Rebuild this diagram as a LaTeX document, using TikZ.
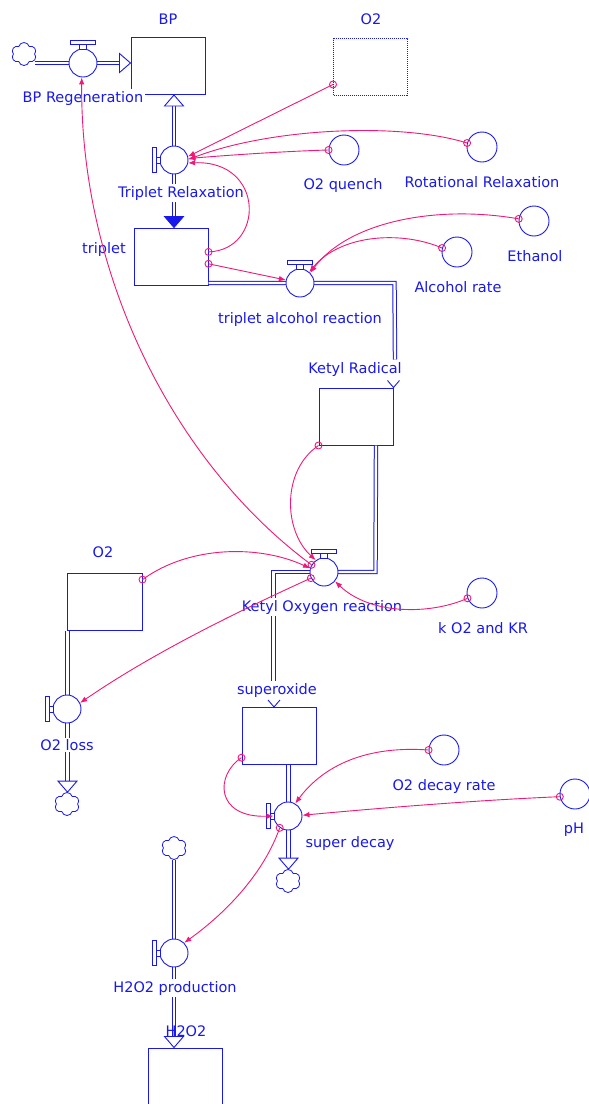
\documentclass[tikz,border=0pt]{standalone}
\usepackage{fontspec}
\setmainfont{DejaVu Sans}
\usepackage{tikz}
\usetikzlibrary{shapes.geometric, shapes.symbols, arrows.meta, calc}
\definecolor{sfblue}{RGB}{25,25,235}
\definecolor{sfpink}{RGB}{240,25,120}
\newcommand{\sflbl}{\fontsize{14.5}{16}\selectfont}
\newcommand{\pipehead}[3]{\draw[#1, shift={#2}, rotate=#3] (0,0) -- (-11,-9.5) -- (-11,9.5) -- cycle;}
\tikzset{
  stock/.style={rectangle, draw=sfblue, line width=1pt,
    minimum width=74pt, minimum height=57pt, inner sep=0pt},
  ghost/.style={stock, densely dotted},
  valve/.style={circle, draw=sfblue, fill=white, line width=0.9pt,
    minimum size=28pt, inner sep=0pt},
  conv/.style={circle, draw=sfblue, line width=0.9pt,
    minimum size=30pt, inner sep=0pt},
  source/.style={cloud, cloud puffs=6, draw=sfblue, line width=0.8pt,
    minimum width=25pt, minimum height=23pt, inner sep=0pt, aspect=1},
  lbl/.style={font=\sflbl, text=sfblue, fill=white, inner sep=1.5pt},
  pipe/.style={draw=sfblue, double=white, double distance=2.4pt, line width=1pt},
  openhead/.style={draw=sfblue, fill=white, line width=0.9pt},
  fullhead/.style={draw=sfblue, fill=sfblue, line width=0.9pt},
  handle/.style={draw=sfblue, fill=white, line width=0.8pt},
  conn/.style={-{Latex[length=7pt,width=5.5pt]}, draw=sfpink, line width=0.9pt},
  tailring/.style={draw=sfpink, line width=0.9pt}
}
\begin{document}
\begin{tikzpicture}[x=1pt, y=-1pt]
  \useasboundingbox (0,0) rectangle (589,1104);

  % Stocks
  \node[stock] (BP) at (168,66) {};
  \node[ghost] (O2top) at (370.5,67) {};
  \node[stock] (triplet) at (171,256.5) {};
  \node[stock] (Ketyl) at (356,416.5) {};
  \node[stock, minimum width=75pt] (O2low) at (104.5,601.5) {};
  \node[stock] (superoxide) at (279,736) {};
  \node[stock] (H2O2) at (185.5,1076.5) {};

  % Sources and sinks
  \node[source] (cloudA) at (24,54) {};
  \node[source] (cloudB) at (67,804) {};
  \node[source] (cloudC) at (288,881) {};
  \node[source] (cloudD) at (174,848) {};

  % Converters
  \node[conv] (O2quench) at (344,150) {};
  \node[conv] (RotRel) at (482,147) {};
  \node[conv] (Ethanol) at (534,221) {};
  \node[conv] (AlcRate) at (457,252) {};
  \node[conv] (kKR) at (482,593) {};
  \node[conv] (O2decay) at (444,750) {};
  \node[conv] (pH) at (575,794) {};

  % Pipes
  \draw[pipe] (cloudA.east |- 0,63) -- (70,63);
  \draw[pipe] (96,63) -- ($(BP.west |- 0,63)+(-11,0)$);
  \draw[pipe] (174,146) -- ($(174,0 |- BP.south)+(0,10)$);
  \draw[pipe] (174,174) -- ($(174,0 |- triplet.north)+(0,-11)$);
  \draw[pipe] (triplet.south east |- 0,283) -- (394.5,283) -- ($(Ketyl.north east)+(1.5,-28)$);
  \draw[pipe] ($(Ketyl.south east)+(-17.5,0)$) -- (375.5,572) -- (324,572);
  \draw[pipe] (324,572) -| ($(superoxide.north)+(-5.5,-8)$);
  \draw[pipe] (67.5,0 |- O2low.south) -- (67.5,709);
  \draw[pipe] (67.5,709) -- ($(67.5,0 |- cloudB.north)+(0,-11)$);
  \draw[pipe] (288.5,0 |- superoxide.south) -- ($(288.5,0 |- cloudC.north)+(0,-11)$);
  \draw[pipe] (174,0 |- cloudD.south) -- ($(174,0 |- H2O2.north)+(0,-11)$);

  % Valves
  \node[valve] (vBPR) at (83,63) {};
  \node[valve] (vTR) at (174,160) {};
  \node[valve] (vTAR) at (300,283) {};
  \node[valve] (vKOR) at (324,572) {};
  \node[valve] (vO2L) at (67,709) {};
  \node[valve] (vSD) at (288,816) {};
  \node[valve] (vH2P) at (174,953) {};

  % Valve handles
  \foreach \v in {vBPR, vTAR, vKOR} {
    \draw[handle] ($(\v)+(-3.5,-19)$) rectangle ($(\v)+(3.5,-14)$);
    \draw[handle] ($(\v)+(-12.5,-23)$) rectangle ($(\v)+(12.5,-19)$);
  }
  \foreach \v in {vTR, vO2L, vSD, vH2P} {
    \draw[handle] ($(\v)+(-18,-3)$) rectangle ($(\v)+(-14,3)$);
    \draw[handle] ($(\v)+(-22,-12.5)$) rectangle ($(\v)+(-18,12.5)$);
  }

  % Flow heads
  \pipehead{openhead}{(BP.west |- vBPR)}{0}
  \pipehead{openhead}{(vTR |- BP.south)}{90}
  \pipehead{fullhead}{(vTR |- triplet.north)}{-90}
  \pipehead{openhead}{(67.5,0 |- cloudB.north)}{-90}
  \pipehead{openhead}{(288.5,0 |- cloudC.north)}{-90}
  \pipehead{openhead}{(vH2P |- H2O2.north)}{-90}
  \draw[draw=sfblue, line width=0.9pt] ($(Ketyl.north east)+(-6,-7)$) -- (Ketyl.north east) -- ($(Ketyl.north east)+(6,-7)$);
  \draw[draw=sfblue, line width=0.9pt] ($(superoxide.north)+(-11,-7)$) -- ($(superoxide.north)+(-5,0)$) -- ($(superoxide.north)+(1,-7)$);

  % Labels
  \node[lbl] (tBP) at (168,19) {BP};
  \node[lbl] (tO2top) at (371,19) {O2};
  \node[lbl] (tBPR) at (83,98) {BP Regeneration};
  \node[lbl] (tTR) at (181,193) {Triplet Relaxation};
  \node[lbl] (tO2q) at (343,185) {O2 quench};
  \node[lbl] (tRot) at (482,182) {Rotational Relaxation};
  \node[lbl] (ttrip) at (104,249) {triplet};
  \node[lbl] (tEth) at (535,256) {Ethanol};
  \node[lbl] (tAlc) at (458,287) {Alcohol rate};
  \node[lbl] (tTAR) at (300,319) {triplet alcohol reaction};
  \node[lbl] (tKet) at (355,369) {Ketyl Radical};
  \node[lbl] (tO2low) at (103,552) {O2};
  \node[lbl] (tKOR) at (322,607) {Ketyl Oxygen reaction};
  \node[lbl] (tkKR) at (483,628) {k O2 and KR};
  \node[lbl] (tsup) at (277,690) {superoxide};
  \node[lbl] (tO2L) at (67,745) {O2 loss};
  \node[lbl] (tO2d) at (444,786) {O2 decay rate};
  \node[lbl] (tpH) at (574,830) {pH};
  \node[lbl] (tSD) at (350,843) {super decay};
  \node[lbl] (tH2P) at (175,988) {H2O2 production};
  \node[lbl, fill=none] (tH2O2) at (186,1031) {H2O2};

  % Connectors
  \draw[conn] (O2top.205) -- (vTR.14);
  \draw[conn] (O2quench.west) .. controls (290,151) and (230,155) .. (vTR.6);
  \draw[conn] (RotRel.165) .. controls (400,122) and (270,128) .. (vTR.2);
  \draw[conn] (triplet.7) .. controls (265,250) and (265,160) .. (vTR.-12);
  \draw[conn] (triplet.-11) -- (vTAR.168);
  \draw[conn] (AlcRate.165) .. controls (400,230) and (340,235) .. (vTAR.50);
  \draw[conn] (Ethanol.172) .. controls (440,205) and (350,220) .. (vTAR.45);
  \draw[conn] (vKOR.150) .. controls (170,460) and (80,270) .. (vBPR.265);
  \draw[conn] (Ketyl.south west) .. controls (282,470) and (283,530) .. (vKOR.125);
  \draw[conn] (O2low.30) .. controls (190,545) and (260,545) .. (vKOR.165);
  \draw[conn] (vKOR.205) .. controls (230,615) and (150,655) .. (vO2L.25);
  \draw[conn] (kKR.200) .. controls (430,615) and (370,615) .. (vKOR.-40);
  \draw[conn] (superoxide.210) .. controls (215,775) and (215,818) .. (vSD.west);
  \draw[conn] (O2decay.180) .. controls (360,745) and (320,770) .. (vSD.60);
  \draw[conn] (pH.190) .. controls (480,800) and (380,808) .. (vSD.3);
  \draw[conn] (vSD.235) .. controls (265,870) and (230,910) .. (vH2P.45);

  % Connector origins
  \foreach \p in {O2top.205, O2quench.west, RotRel.165, triplet.7, triplet.-11,
                  AlcRate.165, Ethanol.172, vKOR.150, Ketyl.south west, O2low.30,
                  vKOR.205, kKR.200, superoxide.210, O2decay.180, pH.190, vSD.235}
    \draw[tailring] (\p) circle (3.5pt);
\end{tikzpicture}
\end{document}
